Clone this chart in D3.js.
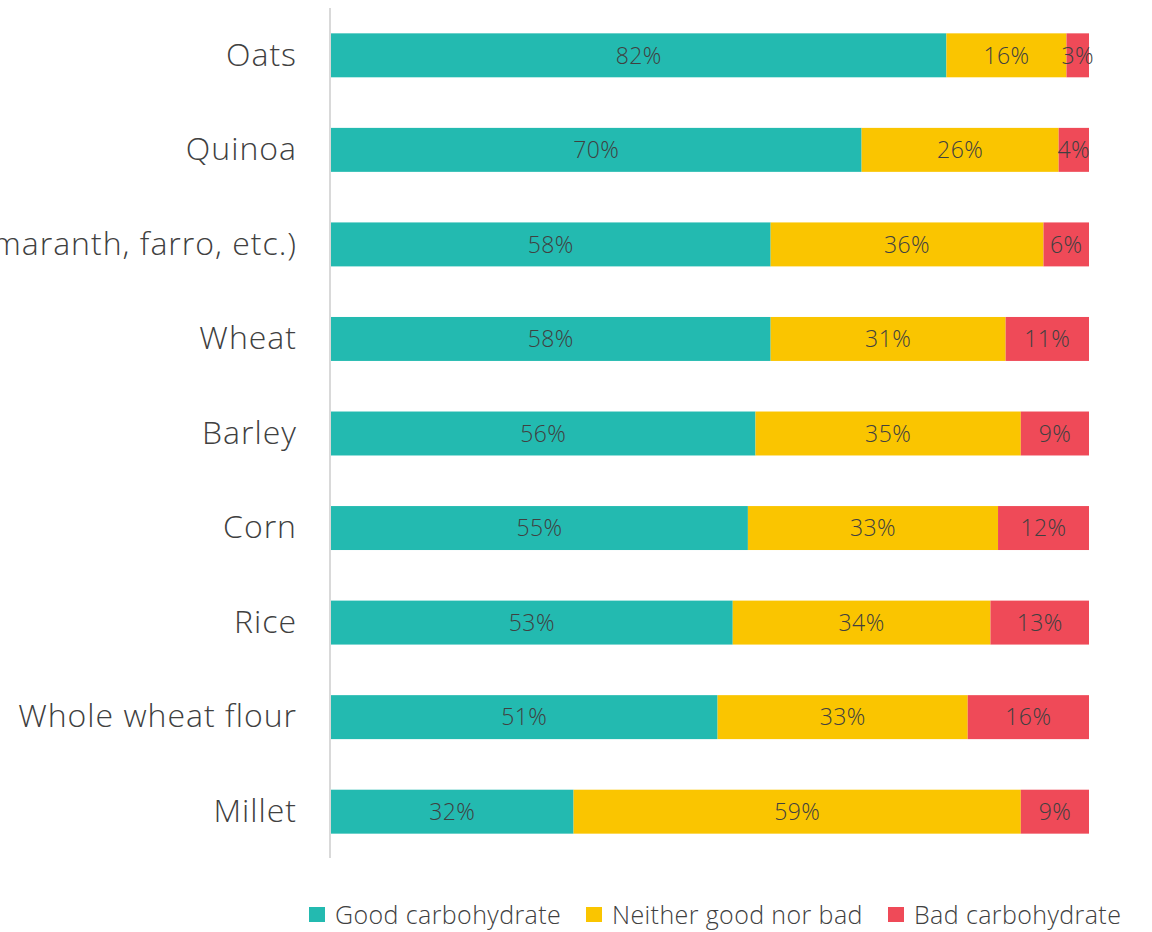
<!DOCTYPE html>
<html>
<head>
<meta charset="utf-8">
<script src="https://cdn.jsdelivr.net/npm/d3@7"></script>
<style>
  html, body { margin: 0; padding: 0; background: #ffffff; }
  svg { display: block; font-family: "Open Sans", "Noto Sans", sans-serif; font-weight: 300; }
</style>
</head>
<body>
<svg id="chart" width="1152" height="932"></svg>
<script>
// Grain categories, top to bottom
const categories = [
  "Oats",
  "Quinoa",
  "Ancient grains (amaranth, farro, etc.)",
  "Wheat",
  "Barley",
  "Corn",
  "Rice",
  "Whole wheat flour",
  "Millet"
];

// Share of respondents (%) per rating
const goodCarb    = [82, 70, 58, 58, 56, 55, 53, 51, 32];
const neitherCarb = [16, 26, 36, 31, 35, 33, 34, 33, 59];
const badCarb     = [ 3,  4,  6, 11,  9, 12, 13, 16,  9];

const seriesNames = ["Good carbohydrate", "Neither good nor bad", "Bad carbohydrate"];
const seriesKeys  = ["good", "neither", "bad"];
const colors      = ["#23BAB0", "#FAC500", "#EF4A58"];

const rows = categories.map((c, i) => ({
  category: c,
  good: goodCarb[i],
  neither: neitherCarb[i],
  bad: badCarb[i]
}));

const svg = d3.select("#chart");

const x = d3.scaleLinear().domain([0, 1]).range([331, 1089]);
const y = d3.scaleBand().domain(categories).range([8, 859])
  .paddingInner(0.535).paddingOuter(0.268);
const color = d3.scaleOrdinal().domain(seriesKeys).range(colors);

// 100% stacked layout
const stacked = d3.stack().keys(seriesKeys).offset(d3.stackOffsetExpand)(rows);

const layers = svg.append("g").selectAll("g")
  .data(stacked)
  .join("g")
  .attr("fill", d => color(d.key));

layers.selectAll("rect")
  .data(d => d.map(p => ({ p, key: d.key })))
  .join("rect")
  .attr("x", d => x(d.p[0]))
  .attr("width", d => x(d.p[1]) - x(d.p[0]))
  .attr("y", d => y(d.p.data.category))
  .attr("height", y.bandwidth());

// Value labels centred in each segment
layers.selectAll("text")
  .data(d => d.map(p => ({ p, key: d.key })))
  .join("text")
  .attr("x", d => (x(d.p[0]) + x(d.p[1])) / 2)
  .attr("y", d => y(d.p.data.category) + y.bandwidth() / 2)
  .attr("dy", "0.36em")
  .attr("text-anchor", "middle")
  .attr("fill", "#404040")
  .attr("font-size", 23)
  .attr("letter-spacing", 0.4)
  .text(d => d.p.data[d.key] + "%");

// Category axis
const yAxis = svg.append("g")
  .attr("transform", "translate(330,0)")
  .call(d3.axisLeft(y).tickSize(0).tickPadding(33));
yAxis.select(".domain")
  .attr("d", "M0,8V858")
  .attr("stroke", "#D9D9D9")
  .attr("stroke-width", 2);
yAxis.selectAll("text")
  .attr("font-family", "\"Open Sans\", \"Noto Sans\", sans-serif")
  .attr("font-weight", 300)
  .attr("font-size", 32)
  .attr("letter-spacing", 1)
  .attr("fill", "#404040");

// Legend
const legendX = [309, 586, 888];
const legend = svg.append("g").selectAll("g")
  .data(seriesNames)
  .join("g")
  .attr("transform", (d, i) => `translate(${legendX[i]},915)`);
legend.append("rect")
  .attr("x", 0).attr("y", -8)
  .attr("width", 16).attr("height", 15)
  .attr("fill", (d, i) => colors[i]);
legend.append("text")
  .attr("x", 26)
  .attr("dy", "0.36em")
  .attr("font-size", 25)
  .attr("letter-spacing", 0.4)
  .attr("fill", "#404040")
  .text(d => d);
</script>
</body>
</html>
